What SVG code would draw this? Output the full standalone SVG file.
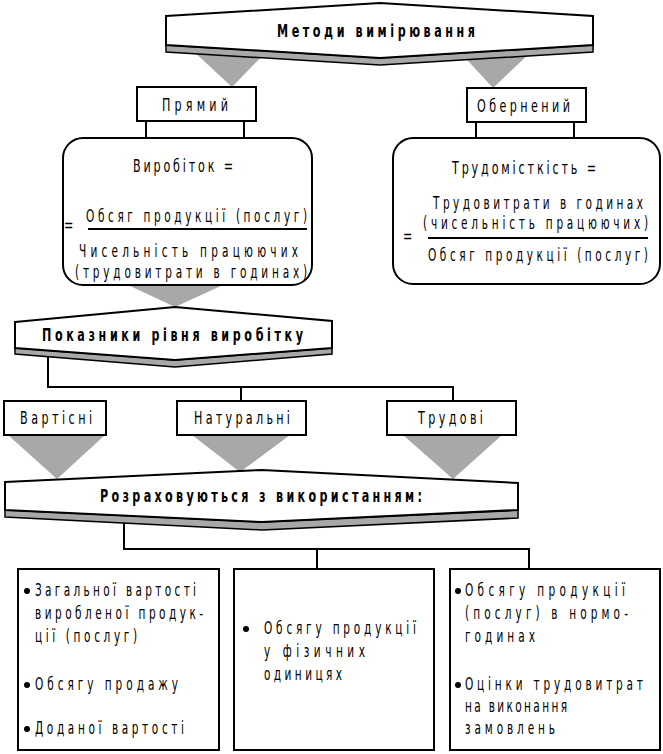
<svg xmlns="http://www.w3.org/2000/svg" width="663" height="754" viewBox="0 0 663 754">
<style>
.t{font-family:"DejaVu Sans","Liberation Sans",sans-serif;font-size:17px;fill:#000}
.b{font-weight:bold;font-size:18px}
.m{font-size:18px}
.f{font-size:17px}
.s{font-size:17px}
.box{fill:#fff;stroke:#000;stroke-width:2}
.ban{fill:#fff;stroke:#000;stroke-width:2;stroke-linejoin:miter}
.band{fill:#a8a8a8;stroke:#000;stroke-width:1.5}
.tri{fill:#a8a8a8;stroke:none}
.ln{stroke:#000;stroke-width:2;fill:none}
</style>
<g id="connectors">
<polygon class="tri" points="192,50 268,50 232,87"/>
<polygon class="tri" points="458,50 533,50 493,88"/>
<polygon class="tri" points="128,285 223,285 175,307"/>
<polygon class="tri" points="8,435 105,435 57,479"/>
<polygon class="tri" points="192,435 290,435 240,472"/>
<polygon class="tri" points="403,435 502,435 453,479"/>
<line class="ln" x1="146" y1="121" x2="146" y2="139"/>
<line class="ln" x1="244" y1="121" x2="244" y2="139"/>
<line class="ln" x1="476" y1="122" x2="476" y2="139"/>
<line class="ln" x1="574" y1="122" x2="574" y2="139"/>
<polyline class="ln" points="48,354 48,387 453,387 453,401"/>
<line class="ln" x1="241" y1="387" x2="241" y2="401"/>
<polyline class="ln" points="124,520 124,549 529,549 529,569"/>
<line class="ln" x1="317" y1="549" x2="317" y2="569"/>
</g>
<g id="methods">
<polygon class="band" points="166,45 380,58 593,45 593,52 380,65 166,52"/>
<polygon class="ban" points="166,16 380,3 593,16 593,45 380,58 166,45"/>
<text class="t b" transform="scale(0.62,1)" x="446.8" y="37" textLength="319.4" lengthAdjust="spacing">Методи вимірювання</text>
</g>
<g id="direct">
<rect class="box" x="137" y="87" width="119" height="34"/>
<text class="t m" transform="scale(0.62,1)" x="261.3" y="111" textLength="106.5" lengthAdjust="spacing">Прямий</text>
</g>
<g id="inverse">
<rect class="box" x="467" y="88" width="119" height="34"/>
<text class="t m" transform="scale(0.62,1)" x="769.4" y="112" textLength="150" lengthAdjust="spacing">Обернений</text>
</g>
<g id="output-formula">
<rect class="box" x="63" y="138" width="249" height="147" rx="20" ry="20"/>
<text class="t m" transform="scale(0.62,1)" x="214.5" y="172" textLength="161.3" lengthAdjust="spacing">Виробіток =</text>
<text class="t m" transform="scale(0.62,1)" x="103.2" y="231">=</text>
<text class="t f" transform="scale(0.62,1)" x="138.7" y="222" textLength="356.5" lengthAdjust="spacing">Обсяг продукції (послуг)</text>
<line class="ln" x1="88" y1="229" x2="307" y2="229"/>
<text class="t f" transform="scale(0.62,1)" x="127.4" y="257" textLength="353.2" lengthAdjust="spacing">Чисельність працюючих</text>
<text class="t f" transform="scale(0.62,1)" x="121" y="278" textLength="374.2" lengthAdjust="spacing">(трудовитрати в годинах)</text>
</g>
<g id="labor-formula">
<rect class="box" x="393" y="138" width="267" height="146" rx="20" ry="20"/>
<text class="t m" transform="scale(0.62,1)" x="729" y="174" textLength="232.3" lengthAdjust="spacing">Трудомісткість =</text>
<text class="t f" transform="scale(0.62,1)" x="698.4" y="209" textLength="338.7" lengthAdjust="spacing">Трудовитрати в годинах</text>
<text class="t f" transform="scale(0.62,1)" x="682.3" y="229" textLength="362.9" lengthAdjust="spacing">(чисельність працюючих)</text>
<text class="t m" transform="scale(0.62,1)" x="650" y="242">=</text>
<line class="ln" x1="428" y1="238" x2="648" y2="238"/>
<text class="t f" transform="scale(0.62,1)" x="690.3" y="261" textLength="354.8" lengthAdjust="spacing">Обсяг продукції (послуг)</text>
</g>
<g id="indicators">
<polygon class="band" points="15,348 175,360 332,348 332,354 175,367 15,354"/>
<polygon class="ban" points="15,322 175,307 332,321 332,348 175,360 15,348"/>
<text class="t b" transform="scale(0.62,1)" x="67.7" y="341" textLength="421" lengthAdjust="spacing">Показники рівня виробітку</text>
</g>
<g id="value">
<rect class="box" x="4" y="401" width="102" height="34"/>
<text class="t m" transform="scale(0.62,1)" x="32.3" y="424" textLength="116.1" lengthAdjust="spacing">Вартісні</text>
</g>
<g id="natural">
<rect class="box" x="177" y="401" width="129" height="34"/>
<text class="t m" transform="scale(0.62,1)" x="312.9" y="424" textLength="154.8" lengthAdjust="spacing">Натуральні</text>
</g>
<g id="labor">
<rect class="box" x="387" y="401" width="129" height="34"/>
<text class="t m" transform="scale(0.62,1)" x="674.2" y="424" textLength="104.8" lengthAdjust="spacing">Трудові</text>
</g>
<g id="calculated">
<polygon class="band" points="5,510 262,522 518,510 518,518 262,530 5,517"/>
<polygon class="ban" points="5,482 262,470 518,483 518,510 262,522 5,510"/>
<text class="t b" transform="scale(0.62,1)" x="161.3" y="502" textLength="519.4" lengthAdjust="spacing">Розраховуються з використанням:</text>
</g>
<g id="value-list">
<rect class="box" x="18" y="569" width="201" height="181"/>
<circle cx="27" cy="591" r="3"/>
<text class="t s" transform="scale(0.62,1)" x="56.5" y="596" textLength="259.7" lengthAdjust="spacing">Загальної вартості</text>
<text class="t s" transform="scale(0.62,1)" x="56.5" y="619" textLength="271" lengthAdjust="spacing">виробленої продук-</text>
<text class="t s" transform="scale(0.62,1)" x="56.5" y="642" textLength="164.5" lengthAdjust="spacing">ції (послуг)</text>
<circle cx="27" cy="685" r="3"/>
<text class="t s" transform="scale(0.62,1)" x="56.5" y="690" textLength="230.6" lengthAdjust="spacing">Обсягу продажу</text>
<circle cx="27" cy="729" r="3"/>
<text class="t s" transform="scale(0.62,1)" x="56.5" y="734" textLength="240.3" lengthAdjust="spacing">Доданої вартості</text>
</g>
<g id="natural-list">
<rect class="box" x="234" y="569" width="200" height="181"/>
<circle cx="246" cy="629" r="3"/>
<text class="t s" transform="scale(0.62,1)" x="425.8" y="634" textLength="245.2" lengthAdjust="spacing">Обсягу продукції</text>
<text class="t s" transform="scale(0.62,1)" x="425.8" y="657" textLength="162.9" lengthAdjust="spacing">у фізичних</text>
<text class="t s" transform="scale(0.62,1)" x="425.8" y="680" textLength="125.8" lengthAdjust="spacing">одиницях</text>
</g>
<g id="labor-list">
<rect class="box" x="450" y="569" width="210" height="181"/>
<circle cx="458" cy="591" r="3"/>
<text class="t s" transform="scale(0.62,1)" x="750" y="596" textLength="258" lengthAdjust="spacing">Обсягу продукції</text>
<text class="t s" transform="scale(0.62,1)" x="750" y="619" textLength="262.9" lengthAdjust="spacing">(послуг) в нормо-</text>
<text class="t s" transform="scale(0.62,1)" x="750" y="642" textLength="112.9" lengthAdjust="spacing">годинах</text>
<circle cx="458" cy="685" r="3"/>
<text class="t s" transform="scale(0.62,1)" x="750" y="690" textLength="287.1" lengthAdjust="spacing">Оцінки трудовитрат</text>
<text class="t s" transform="scale(0.62,1)" x="750" y="712" textLength="164.5" lengthAdjust="spacing">на виконання</text>
<text class="t s" transform="scale(0.62,1)" x="750" y="734" textLength="145.2" lengthAdjust="spacing">замовлень</text>
</g>
</svg>
